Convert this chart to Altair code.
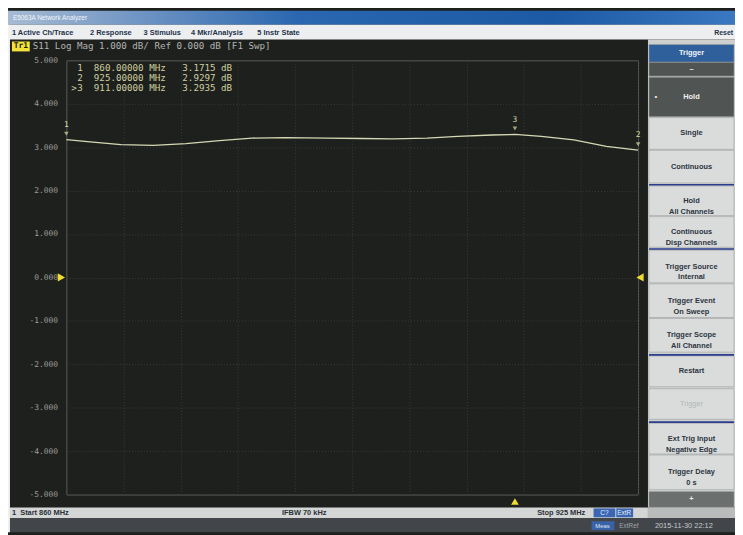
import altair as alt
import pandas as pd

# ---------------- data ----------------
freq_mhz = [860, 862.4, 866.2, 869.9, 873.6, 877.4, 881.1, 884.9, 889.6, 893.5,
            897.1, 901.0, 904.5, 908.4, 911.0, 914.0, 917.7, 921.4, 925]
s11_db = [3.1715, 3.13, 3.06, 3.04, 3.08, 3.15, 3.21, 3.22, 3.21, 3.20,
          3.19, 3.21, 3.25, 3.28, 3.2935, 3.25, 3.17, 3.02, 2.9297]

marker_no = ["1", "2", "3"]
marker_freq = [860.0, 925.0, 911.0]
marker_db = [3.1715, 2.9297, 3.2935]
active_marker = "3"

y_ticks = [5, 4, 3, 2, 1, 0, -1, -2, -3, -4, -5]
x_grid = [860 + 6.5 * k for k in range(11)]

header_text = "S11 Log Mag 1.000 dB/ Ref 0.000 dB [F1 Swp]"
menu_items = ["1 Active Ch/Trace", "2 Response", "3 Stimulus", "4 Mkr/Analysis", "5 Instr State"]
softkey_labels = ["Trigger", "\u2013", "Hold", "Single", "Continuous", "Hold\nAll Channels",
                  "Continuous\nDisp Channels", "Trigger Source\nInternal", "Trigger Event\nOn Sweep",
                  "Trigger Scope\nAll Channel", "Restart", "Trigger", "Ext Trig Input\nNegative Edge",
                  "Trigger Delay\n0 s", "+"]
status_start = "1\u00a0\u00a0Start 860 MHz"
status_ifbw = "IFBW 70 kHz"
status_stop = "Stop 925 MHz"
clock_text = "2015-11-30 22:12"

NB = "\u00a0"

# ---------------- layout helpers (page pixel -> view pixel) ----------------
OX, OY = 67, 58          # page position of plot view's top-left
W, H = 578, 439

def vx(p):
    return p - OX

def vy(p):
    return p - OY

one = pd.DataFrame({"a": [0]})

def rect(x1, x2, y1, y2, fill, **kw):
    return alt.Chart(one).mark_rect(fill=fill, **kw).encode(
        x=alt.value(vx(x1)), x2=alt.value(vx(x2)),
        y=alt.value(vy(y1)), y2=alt.value(vy(y2)))

def text(px, py, s, **kw):
    return alt.Chart(one).mark_text(**kw).encode(
        x=alt.value(vx(px)), y=alt.value(vy(py)), text=alt.value(s))

layers = []

# title bar
grad = alt.LinearGradient(gradient="linear", x1=0, x2=1, y1=0, y2=0,
                          stops=[alt.GradientStop(color="#a7bbd3", offset=0),
                                 alt.GradientStop(color="#6f95c4", offset=0.18),
                                 alt.GradientStop(color="#2a67b0", offset=0.4),
                                 alt.GradientStop(color="#1d5aa5", offset=0.75),
                                 alt.GradientStop(color="#3a78c2", offset=1)])
layers.append(rect(8, 743, 8, 22, grad))
layers.append(text(13, 15, "E5063A Network Analyzer", font="Liberation Sans", fontSize=6.5,
                   color="#f4f6fa", align="left", baseline="middle"))
# menu bar
layers.append(rect(8, 743, 22, 37, "#eceef0"))
menu_x = [12, 91, 145, 193, 260]
for mx, m in zip(menu_x, menu_items):
    layers.append(text(mx, 30, m, font="Liberation Sans", fontSize=7.5, fontWeight="bold",
                       color="#23324a", align="left", baseline="middle"))
layers.append(text(741, 30, "Reset", font="Liberation Sans", fontSize=7, fontWeight="bold",
                   color="#23324a", align="right", baseline="middle"))
# left white strip
layers.append(rect(8, 10, 22, 535, "#f2f2f2"))

# channel header
layers.append(rect(12, 30, 39, 49, "#f2e23a"))
layers.append(text(21, 44, "Tr1", font="DejaVu Sans Mono", fontSize=8, fontWeight="bold",
                   color="#202010", align="center", baseline="middle"))
layers.append(text(33, 44, header_text, font="DejaVu Sans Mono", fontSize=9.3,
                   color="#b2b4ae", align="left", baseline="middle"))

# marker readout
for i, (n, f, d) in enumerate(zip(marker_no, marker_freq, marker_db)):
    if n == active_marker:
        layers.append(text(72, 66 + 10 * i, ">", font="DejaVu Sans Mono", fontSize=9.3,
                           color="#cfcf9e", align="left", baseline="middle"))
    line = f"{n}{NB*2}{f:.5f}{NB}MHz{NB*3}{d:.4f}{NB}dB"
    layers.append(text(78, 66 + 10 * i, line, font="DejaVu Sans Mono", fontSize=9.3,
                       color="#cfcf9e", align="left", baseline="middle"))

# right softkey panel
layers.append(rect(655, 743, 37, 510, "#cdd0cf"))
keys = [(42, 60, "header"), (60, 74, "dark"), (75, 115, "dark"), (116, 148, "light"),
        (149, 182, "light"), (185, 215, "light"), (216, 247, "light"), (250, 283, "light"),
        (284, 318, "light"), (319, 353, "light"), (357, 388, "light"), (390, 421, "disabled"),
        (425, 456, "light"), (457, 492, "light"), (494, 510, "dark2")]
fills = {"header": "#2f609c", "dark": "#505553", "dark2": "#6b6f6d",
         "light": "#d9dcdb", "disabled": "#d9dcdb"}
tcol = {"header": "#f2f4f8", "dark": "#f0f0f0", "dark2": "#e8e8e8",
        "light": "#2c3440", "disabled": "#b4b8b6"}
for lab, (t, b, kind) in zip(softkey_labels, keys):
    layers.append(rect(656, 742, t, b, fills[kind], stroke="#9ea2a0", strokeWidth=0.6))
    layers.append(text(699, (t + b) / 2, lab, font="Liberation Sans", fontSize=7.5,
                       fontWeight="bold" if kind != "disabled" else "normal",
                       color=tcol[kind], align="center", baseline="middle",
                       lineBreak="\n", lineHeight=11))
layers.append(text(663, 95, "\u2022", font="Liberation Sans", fontSize=8,
                   color="#f0f0f0", align="center", baseline="middle"))
for sep in [183, 248, 355, 423]:
    layers.append(rect(656, 742, sep, sep + 1.6, "#2a3d8e"))

# status bar
layers.append(rect(10, 655, 510, 521, "#d3d6d5"))
layers.append(rect(655, 743, 510, 521, "#b9bcbb"))
layers.append(text(12, 516, status_start, font="Liberation Sans", fontSize=7.5, fontWeight="bold",
                   color="#2a3038", align="left", baseline="middle"))
layers.append(text(285, 516, status_ifbw, font="Liberation Sans", fontSize=7.5, fontWeight="bold",
                   color="#2a3038", align="left", baseline="middle"))
layers.append(text(543, 516, status_stop, font="Liberation Sans", fontSize=7.5, fontWeight="bold",
                   color="#2a3038", align="left", baseline="middle"))
layers.append(rect(600, 622, 511, 520, "#3a66b4"))
layers.append(rect(623, 640, 511, 520, "#3a66b4"))
layers.append(text(611, 515.5, "C?", font="Liberation Sans", fontSize=6.5, color="#e8eef8",
                   align="center", baseline="middle"))
layers.append(text(631, 515.5, "ExtR", font="Liberation Sans", fontSize=6.5, color="#e8eef8",
                   align="center", baseline="middle"))
# bottom strip
layers.append(rect(10, 743, 521, 535, "#42464a"))
layers.append(rect(598, 621, 524, 533, "#3a62a8"))
layers.append(text(609, 528.5, "Meas", font="Liberation Sans", fontSize=6, color="#dfe6f2",
                   align="center", baseline="middle"))
layers.append(text(626, 528.5, "ExtRef", font="Liberation Sans", fontSize=6.5, color="#9ea4aa",
                   align="left", baseline="middle"))
layers.append(text(662, 528.5, clock_text, font="Liberation Sans", fontSize=7.5, color="#c4c8cc",
                   align="left", baseline="middle"))

# ---------------- measurement plot ----------------
trace_df = pd.DataFrame({"f": freq_mhz, "db": s11_db})
mk_df = pd.DataFrame({"f": marker_freq, "db": marker_db, "n": marker_no})

xs = alt.Scale(domain=[860, 925], nice=False, zero=False)
ys = alt.Scale(domain=[-5, 5], nice=False, zero=False)

xaxis = alt.Axis(values=x_grid, labels=False, ticks=False, domain=False, grid=True,
                 gridColor="#393c37", gridDash=[1, 2], gridWidth=1, title=None)
yaxis = alt.Axis(values=y_ticks, labelExpr="replace(format(datum.value, '.3f'), '\u2212', '-')",
                 labelFont="DejaVu Sans Mono", labelFontSize=8, labelColor="#9c9e98",
                 labelPadding=9, ticks=False, domain=False, grid=True,
                 gridColor="#393c37", gridDash=[1, 2], gridWidth=1, title=None)

trace = alt.Chart(trace_df).mark_line(color="#d6d8b4", strokeWidth=1.3).encode(
    x=alt.X("f:Q", scale=xs, axis=xaxis),
    y=alt.Y("db:Q", scale=ys, axis=yaxis))

mk_tri = alt.Chart(mk_df).mark_point(shape="triangle-down", filled=True, size=22,
                                      color="#d8d8a4", yOffset=-6).encode(
    x=alt.X("f:Q", scale=xs), y=alt.Y("db:Q", scale=ys))
mk_txt = alt.Chart(mk_df).mark_text(font="DejaVu Sans Mono", fontSize=8, color="#d8d8a4",
                                     dy=-15).encode(
    x=alt.X("f:Q", scale=xs), y=alt.Y("db:Q", scale=ys), text="n:N")

ref_left = alt.Chart(one).mark_point(shape="triangle-right", filled=True, size=70,
                                      color="#f0dc30", opacity=1).encode(
    x=alt.value(-5), y=alt.datum(0.0, scale=ys))
ref_right = alt.Chart(one).mark_point(shape="triangle-left", filled=True, size=70,
                                       color="#f0dc30", opacity=1).encode(
    x=alt.value(W + 2), y=alt.datum(0.0, scale=ys))
act_df = mk_df[mk_df["n"] == active_marker]
bottom_tri = alt.Chart(act_df).mark_point(shape="triangle-up", filled=True, size=60,
                                          color="#f0dc30", opacity=1).encode(
    x=alt.X("f:Q", scale=xs), y=alt.value(H + 7))

chart = alt.layer(*layers, trace, mk_tri, mk_txt, ref_left, ref_right, bottom_tri).properties(
    width=W, height=H,
    autosize=alt.AutoSizeParams(type="none"),
    padding={"left": 59, "top": 50, "right": 98, "bottom": 38},
    background="#1e201e",
).configure_view(stroke="#5c5e58", strokeWidth=1, fill="#1e201e")

chart.save("out.html", embed_options={"renderer": "svg", "actions": False})
